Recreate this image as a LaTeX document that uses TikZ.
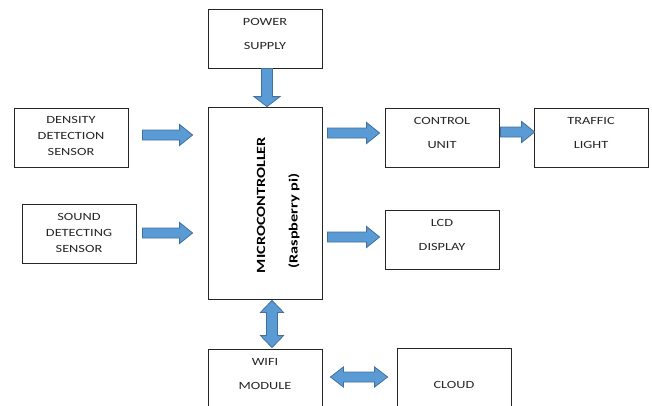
\documentclass[tikz,border=0pt]{standalone}
\usepackage{fontspec}
\setmainfont{Carlito}[FakeStretch=1.3]
\usetikzlibrary{calc}
\definecolor{arrowfill}{HTML}{5B9BD5}
\definecolor{arrowedge}{HTML}{41719C}
\tikzset{
  box/.style={draw=black!85, line width=0.8pt, minimum width=114pt, minimum height=59pt, inner sep=0pt},
  txt/.style={font=\fontsize{11}{16}\selectfont, text=black!85, align=center, inner sep=0pt},
  barrow/.style={draw=arrowedge, fill=arrowfill, line width=0.8pt, line join=miter},
  rarrow/.style={barrow, to path={let \p1=(\tikztostart), \p2=(\tikztotarget) in
     (\x1,\y1+5pt) -- (\x2-13pt,\y1+5pt) -- (\x2-13pt,\y1+10.5pt) -- (\x2,\y1)
     -- (\x2-13pt,\y1-10.5pt) -- (\x2-13pt,\y1-5pt) -- (\x1,\y1-5pt) -- cycle}},
  darrow/.style={barrow, to path={let \p1=(\tikztostart), \p2=(\tikztotarget) in
     (\x1-5.5pt,\y1) -- (\x1-5.5pt,\y2+10pt) -- (\x1-13pt,\y2+10pt) -- (\x1,\y2)
     -- (\x1+13pt,\y2+10pt) -- (\x1+5.5pt,\y2+10pt) -- (\x1+5.5pt,\y1) -- cycle}},
  vdarrow/.style={barrow, to path={let \p1=(\tikztostart), \p2=(\tikztotarget) in
     (\x1,\y1) -- (\x1-11.5pt,\y1-12pt) -- (\x1-5.5pt,\y1-12pt) -- (\x1-5.5pt,\y2+12pt)
     -- (\x1-11.5pt,\y2+12pt) -- (\x1,\y2) -- (\x1+11.5pt,\y2+12pt) -- (\x1+5.5pt,\y2+12pt)
     -- (\x1+5.5pt,\y1-12pt) -- (\x1+11.5pt,\y1-12pt) -- cycle}},
  hdarrow/.style={barrow, to path={let \p1=(\tikztostart), \p2=(\tikztotarget) in
     (\x1,\y1) -- (\x1+13pt,\y1+10pt) -- (\x1+13pt,\y1+5pt) -- (\x2-13pt,\y1+5pt)
     -- (\x2-13pt,\y1+10pt) -- (\x2,\y1) -- (\x2-13pt,\y1-10pt) -- (\x2-13pt,\y1-5pt)
     -- (\x1+13pt,\y1-5pt) -- (\x1+13pt,\y1-10pt) -- cycle}},
}
\begin{document}
\begin{tikzpicture}[x=1pt, y=-1pt]
\useasboundingbox (0,0) rectangle (652,405);
\fill[white] (0,0) rectangle (652,405);
% boxes
\node[box] (power) at (265,38.5) {};
\node[box, minimum height=192pt] (micro) at (265,203) {};
\node[box] (dens) at (71,137.5) {};
\node[box] (sound) at (79,233.5) {};
\node[box] (ctrl) at (442,137.5) {};
\node[box] (traffic) at (591,137.5) {};
\node[box] (lcd) at (442,239.5) {};
\node[box, minimum height=62pt] (wifi) at (265,380) {};
\node[box, minimum height=62pt] (cloud) at (454,379) {};
% texts
\node[txt] (powert) at (265,34) {POWER\\[8pt]SUPPLY};
\node[txt] (denst) at (71,136) {DENSITY\\DETECTION\\SENSOR};
\node[txt] (soundt) at (79,232.5) {SOUND\\DETECTING\\SENSOR};
\node[txt] (ctrlt) at (442,132.5) {CONTROL\\[8pt]UNIT};
\node[txt] (traffict) at (591,132.5) {TRAFFIC\\[8pt]LIGHT};
\node[txt] (lcdt) at (442,234.5) {LCD\\[8pt]DISPLAY};
\node[txt] (wifit) at (265,374) {WIFI\\[8pt]MODULE};
\node[txt] (cloudt) at (454,385) {CLOUD};
\node[rotate=90, inner sep=0pt, font=\fontsize{12.5}{15}\bfseries\selectfont] (microt) at (261,205) {MICROCONTROLLER};
\node[rotate=90, inner sep=0pt, font=\fontsize{12.5}{15}\bfseries\selectfont] (rpit) at (294,221) {(Raspberry pi)};
% arrows
\draw[darrow] ($(power.south)+(2,0)$) to ($(micro.north)+(2,0)$);
\draw[rarrow] ($(dens.east)+(14,-2.5)$) to ($(micro.west)+(-15,0)$);
\draw[rarrow] ($(sound.east)+(6,-0.5)$) to ($(micro.west)+(-15,0)$);
\draw[rarrow] ($(micro.east |- ctrl.west)+(5,-4.5)$) to ($(ctrl.west)+(-5,0)$);
\draw[rarrow] ($(ctrl.east)+(1,-5.5)$) to ($(traffic.west)+(1,0)$);
\draw[rarrow] ($(micro.east |- lcd.west)+(5,-2.5)$) to ($(lcd.west)+(-5,0)$);
\draw[vdarrow] ($(micro.south)+(7,1)$) to ($(wifi.north)+(7,-1)$);
\draw[hdarrow] ($(wifi.east)+(8,-3)$) to ($(cloud.west)+(-9,0)$);
\end{tikzpicture}
\end{document}
